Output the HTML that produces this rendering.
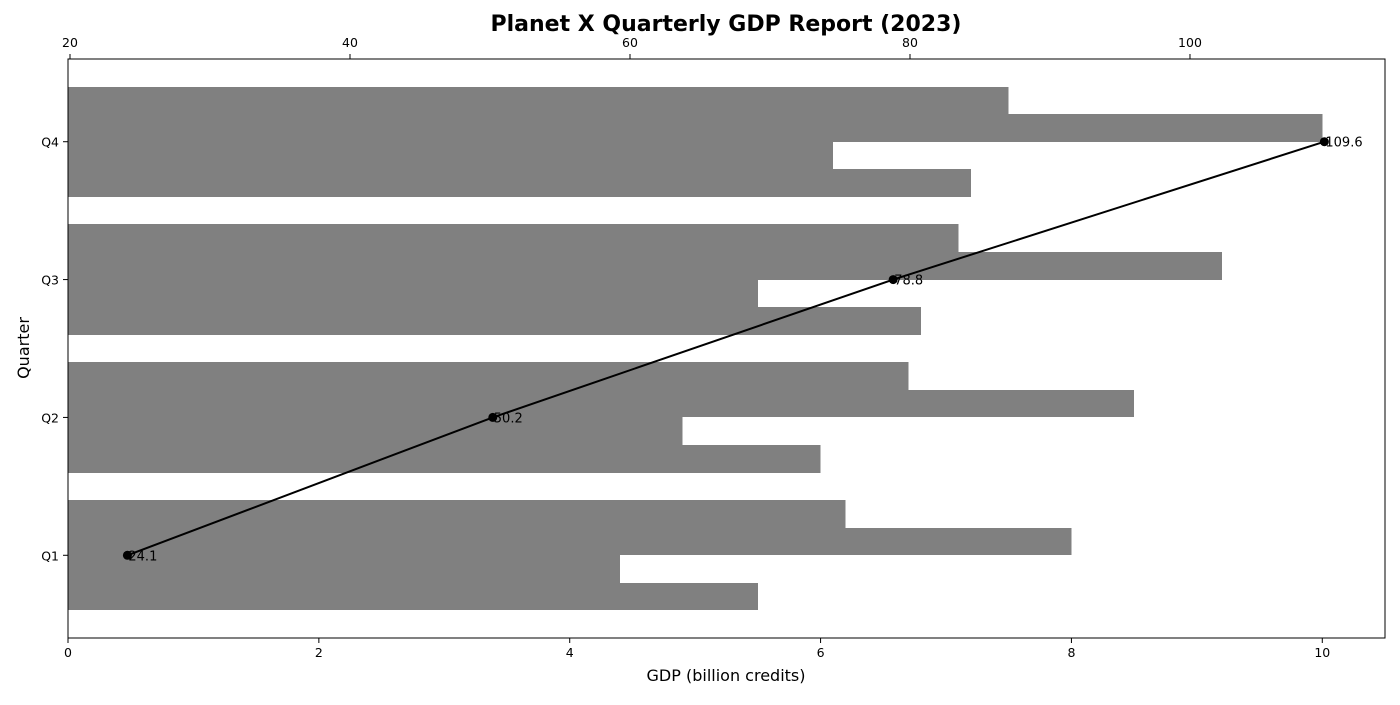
<!DOCTYPE html>
<html><head><meta charset="utf-8"><style>
body{margin:0;background:#fff;}
svg text{font-family:"DejaVu Sans","Liberation Sans",sans-serif;}
</style></head><body>
<svg id="chart" width="1400" height="700" viewBox="0 0 1400 700" xmlns="http://www.w3.org/2000/svg">
<rect width="1400" height="700" fill="#fff"/>
<text x="726" y="31" font-size="22" font-weight="bold" text-anchor="middle">Planet X Quarterly GDP Report (2023)</text>
<g id="bars" shape-rendering="crispEdges"></g>
<g id="line"></g>
<rect x="68" y="59" width="1317" height="579" fill="none" stroke="#000" stroke-width="1"/>
<g id="axes"></g>
<text x="726" y="681" font-size="16" text-anchor="middle">GDP (billion credits)</text>
<text transform="translate(29,348) rotate(-90)" font-size="16" text-anchor="middle">Quarter</text>
</svg>
<script>
const quarters = ["Q1","Q2","Q3","Q4"];
const seriesA = [6.2, 6.7, 7.1, 7.5];
const seriesB = [8.0, 8.5, 9.2, 10.0];
const seriesC = [4.4, 4.9, 5.5, 6.1];
const seriesD = [5.5, 6.0, 6.8, 7.2];
const totals = [24.1, 50.2, 78.8, 109.6];
const bottomTicks = [0, 2, 4, 6, 8, 10];
const topTicks = [20, 40, 60, 80, 100];

const NS = "http://www.w3.org/2000/svg";
const L = 68, R = 1385, T = 59, B = 638;
const xB = v => L + (v - 0) / 10.5 * (R - L);
const xT = v => L + (v - 19.857) / (113.93 - 19.857) * (R - L);
const yS = v => B - (v + 0.6) / 4.2 * (B - T);
function mk(tag, attrs, parent){const e=document.createElementNS(NS,tag);for(const k in attrs)e.setAttribute(k,attrs[k]);parent.appendChild(e);return e;}

const bars = document.getElementById("bars");
const series = [seriesA, seriesB, seriesC, seriesD];
const offsets = [0.3, 0.1, -0.1, -0.3];
series.forEach((s, si) => {
  s.forEach((v, qi) => {
    const c = qi + offsets[si];
    const y1 = Math.round(yS(c + 0.1)), y2 = Math.round(yS(c - 0.1));
    const r = mk("rect", {x: xB(0), y: y1, width: xB(v) - xB(0), height: y2 - y1, fill: "#808080"}, bars);
    
    
  });
});

const line = document.getElementById("line");
const pts = totals.map((v, i) => xT(v) + "," + yS(i)).join(" ");
const pl = mk("polyline", {points: pts, fill: "none", stroke: "#000", "stroke-width": 2}, line);


totals.forEach((v, i) => {
  const c = mk("circle", {cx: xT(v), cy: yS(i), r: 4.5, fill: "#000"}, line);
  
  
  const t = mk("text", {x: xT(v) + 1, y: yS(i) + 5, "font-size": 13}, line);
  t.textContent = v.toFixed(1);
  
  
});

const axes = document.getElementById("axes");
bottomTicks.forEach(v => {
  mk("line", {x1: xB(v), x2: xB(v), y1: B, y2: B + 5, stroke: "#000"}, axes);
  const t = mk("text", {x: xB(v), y: B + 19, "font-size": 12.5, "text-anchor": "middle"}, axes);
  t.textContent = v;
  
  
});
topTicks.forEach(v => {
  mk("line", {x1: xT(v), x2: xT(v), y1: T, y2: T - 5, stroke: "#000"}, axes);
  const t = mk("text", {x: xT(v), y: T - 12, "font-size": 12.5, "text-anchor": "middle"}, axes);
  t.textContent = v;
  
  
});
quarters.forEach((q, i) => {
  mk("line", {x1: L, x2: L - 5, y1: yS(i), y2: yS(i), stroke: "#000"}, axes);
  const t = mk("text", {x: L - 9, y: yS(i) + 5, "font-size": 12.5, "text-anchor": "end"}, axes);
  t.textContent = q;
  
  
});
</script>
</body></html>
